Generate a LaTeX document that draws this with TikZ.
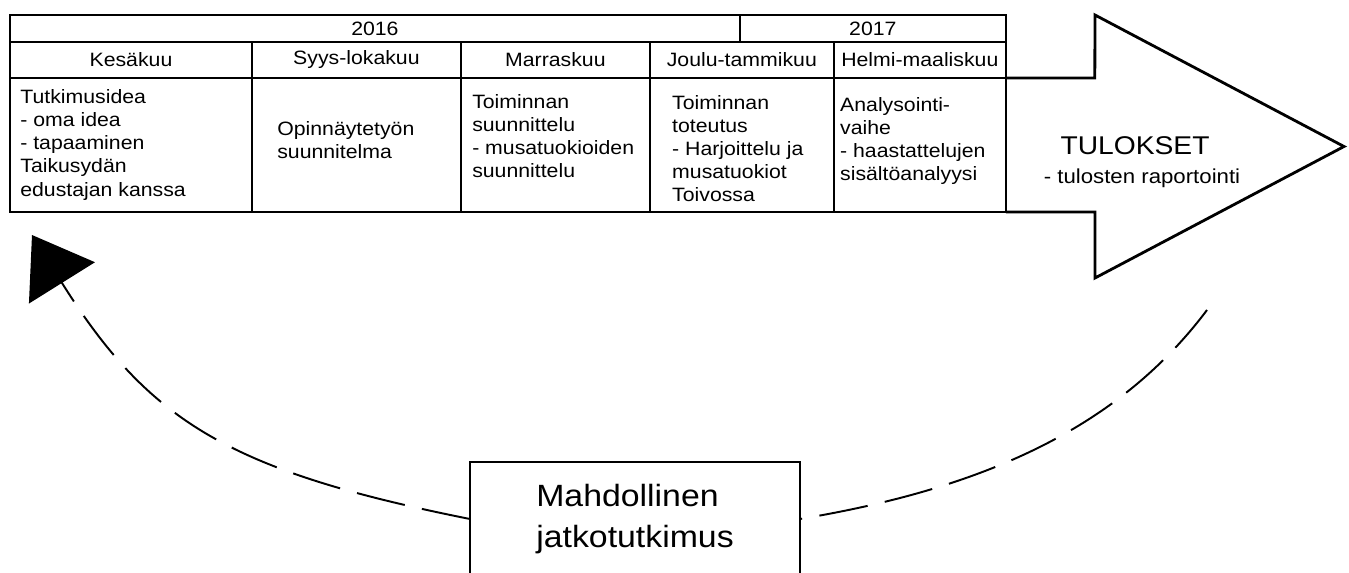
\documentclass[tikz,border=0pt]{standalone}
\usepackage{fontspec}
\setmainfont{Liberation Sans}[FakeStretch=1.1]
\usepackage{tikz}
\usetikzlibrary{arrows.meta}
\usetikzlibrary{positioning}
\tikzset{
    cell/.style={
           rectangle,
           draw=black, line width=1.4pt,
           inner sep=0pt, outer sep=0pt,
           font=\fontsize{11}{13.1}\selectfont,
           text centered},
    month/.style={cell, minimum height=0.72cm},
    body/.style={cell, minimum height=2.68cm},
    bodytxt/.style={
           anchor=west, align=left, inner sep=0pt,
           font=\fontsize{11}{13.1}\selectfont},
    bigarrow/.style={draw=black, line width=1.6pt, line join=miter},
    jatkobox/.style={
           rectangle,
           draw=black, line width=1.6pt,
           outer sep=0pt,
           minimum width=6.6cm, minimum height=2.28cm,
           align=left,
           font=\fontsize{17.5}{23.8}\selectfont},
    dashline/.style={line width=1.1pt, dash pattern=on 28pt off 10pt},
}

\begin{document}
\begin{tikzpicture}[x=0.02cm,y=-0.02cm]
\useasboundingbox (0,0) rectangle (1349,572);
\clip (0,0) rectangle (1349,572);

 % years
 \node[cell, anchor=north west,
 minimum width=14.6cm, minimum height=0.54cm] (Y2016) at (10,15) {2016};
 \node[cell, right=0pt of Y2016,
 minimum width=5.32cm, minimum height=0.54cm] (Y2017) {2017};

 % months
 \node[month, anchor=north west, minimum width=4.84cm] (KESA) at (Y2016.south west) {Kesäkuu};
 \node[month, right=0pt of KESA, minimum width=4.18cm] (SYYS) {Syys-lokakuu};
 \node[month, right=0pt of SYYS, minimum width=3.78cm] (MARRAS) {Marraskuu};
 \node[month, right=0pt of MARRAS, minimum width=3.68cm] (JOULU) {Joulu-tammikuu};
 \node[month, right=0pt of JOULU, minimum width=3.44cm] (HELMI) {Helmi-maaliskuu};

 % body cells
 \node[body, below=0pt of KESA, minimum width=4.84cm] (KESAB) {};
 \node[body, below=0pt of SYYS, minimum width=4.18cm] (SYYSB) {};
 \node[body, below=0pt of MARRAS, minimum width=3.78cm] (MARRASB) {};
 \node[body, below=0pt of JOULU, minimum width=3.68cm] (JOULUB) {};
 \node[body, below=0pt of HELMI, minimum width=3.44cm] (HELMIB) {};

 \node[bodytxt, right=0.2cm of KESAB.west] (IDEA)
 {Tutkimusidea\\- oma idea\\- tapaaminen\\Taikusydän\\edustajan kanssa};
 \node[bodytxt, right=0.5cm of SYYSB.west, yshift=3pt] (SUUNNITELMA)
 {Opinnäytetyön\\suunnitelma};
 \node[bodytxt, right=0.22cm of MARRASB.west, yshift=5pt] (TSUUNNITTELU)
 {Toiminnan\\suunnittelu\\- musatuokioiden\\suunnittelu};
 \node[bodytxt, right=0.44cm of JOULUB.west, yshift=-2pt] (TOTEUTUS)
 {Toiminnan\\toteutus\\- Harjoittelu ja\\musatuokiot\\Toivossa};
 \node[bodytxt, right=0.12cm of HELMIB.west, yshift=2pt] (ANALYYSI)
 {Analysointi-\\vaihe\\- haastattelujen\\sisältöanalyysi};

 % results arrow
 \draw[bigarrow] (HELMIB.north east) -- ++(89,0) -- (1095,15) -- (1344,146.5)
 -- (1095,278) -- (1095,212) -- (HELMIB.south east);
 \node[inner sep=0pt, font=\fontsize{14.6}{17}\selectfont] (TULOKSET) at (1135,146) {TULOKSET};
 \node[inner sep=0pt, below=0.26cm of TULOKSET, xshift=0.14cm,
 font=\fontsize{11.5}{13.5}\selectfont] (RAPORTOINTI) {- tulosten raportointi};

 % further research
 \node[jatkobox] (JATKO) at (635,519) {Mahdollinen\\jatkotutkimus};
 \coordinate (PALUU) at (32,235);
 \coordinate (TULOSPAA) at (1207,310);

 \draw[dashline, -{Triangle[length=1.13cm,width=1.55cm]}]
 (JATKO.west) .. controls (230,471) and (149,422) .. (PALUU);
 \draw[dashline]
 (TULOSPAA) .. controls (1117,430) and (980,489) .. (JATKO.east);

\end{tikzpicture}
\end{document}
